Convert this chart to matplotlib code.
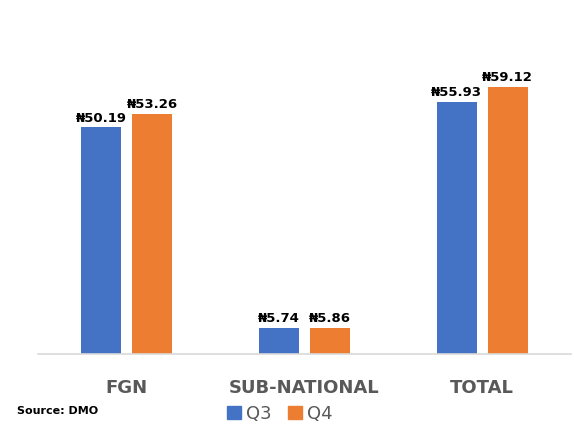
import matplotlib
matplotlib.use("Agg")
import matplotlib.pyplot as plt
import numpy as np
from matplotlib.patches import Patch

categories = ["FGN", "SUB-NATIONAL", "TOTAL"]
q3 = [50.19, 5.74, 55.93]
q4 = [53.26, 5.86, 59.12]
series_names = ["Q3", "Q4"]

blue = "#4472C4"
orange = "#ED7D31"

fig = plt.figure(figsize=(5.74, 4.26), dpi=100)
ax = fig.add_axes([38 / 574, 72 / 426, 533 / 574, 316 / 426])

x = np.arange(len(categories))
w = 0.225
off = 0.1435
b1 = ax.bar(x - off, q3, w, color=blue)
b2 = ax.bar(x + off, q4, w, color=orange)

for bars, vals in ((b1, q3), (b2, q4)):
    for b, v in zip(bars, vals):
        ax.annotate(f"\u20a6{v:.2f}", (b.get_x() + b.get_width() / 2, v),
                    xytext=(0, 2), textcoords="offset points",
                    ha="center", va="bottom", fontsize=9.5, fontweight="bold",
                    color="black")

ax.set_xlim(-0.5, 2.5)
ax.set_ylim(0, 70)
ax.set_yticks([])
ax.set_xticks(x)
ax.set_xticklabels(categories, fontsize=13, fontweight="bold", color="#595959")
ax.tick_params(axis="x", length=0, pad=18)
for s in ("top", "right", "left"):
    ax.spines[s].set_visible(False)
ax.spines["bottom"].set_color("#D9D9D9")
ax.spines["bottom"].set_linewidth(1.2)

handles = [Patch(color=blue), Patch(color=orange)]
leg = fig.legend(handles, series_names, loc="center", bbox_to_anchor=(280 / 574, 1 - 414 / 426),
                 ncol=2, frameon=False, fontsize=13, handlelength=0.75, handleheight=0.75,
                 handletextpad=0.3, columnspacing=0.9)
for t in leg.get_texts():
    t.set_color("#595959")

fig.text(17 / 574, 1 - 411 / 426, "Source: DMO", fontsize=8, fontweight="bold",
         ha="left", va="center", color="black")

fig.savefig("out.png", dpi=100)
